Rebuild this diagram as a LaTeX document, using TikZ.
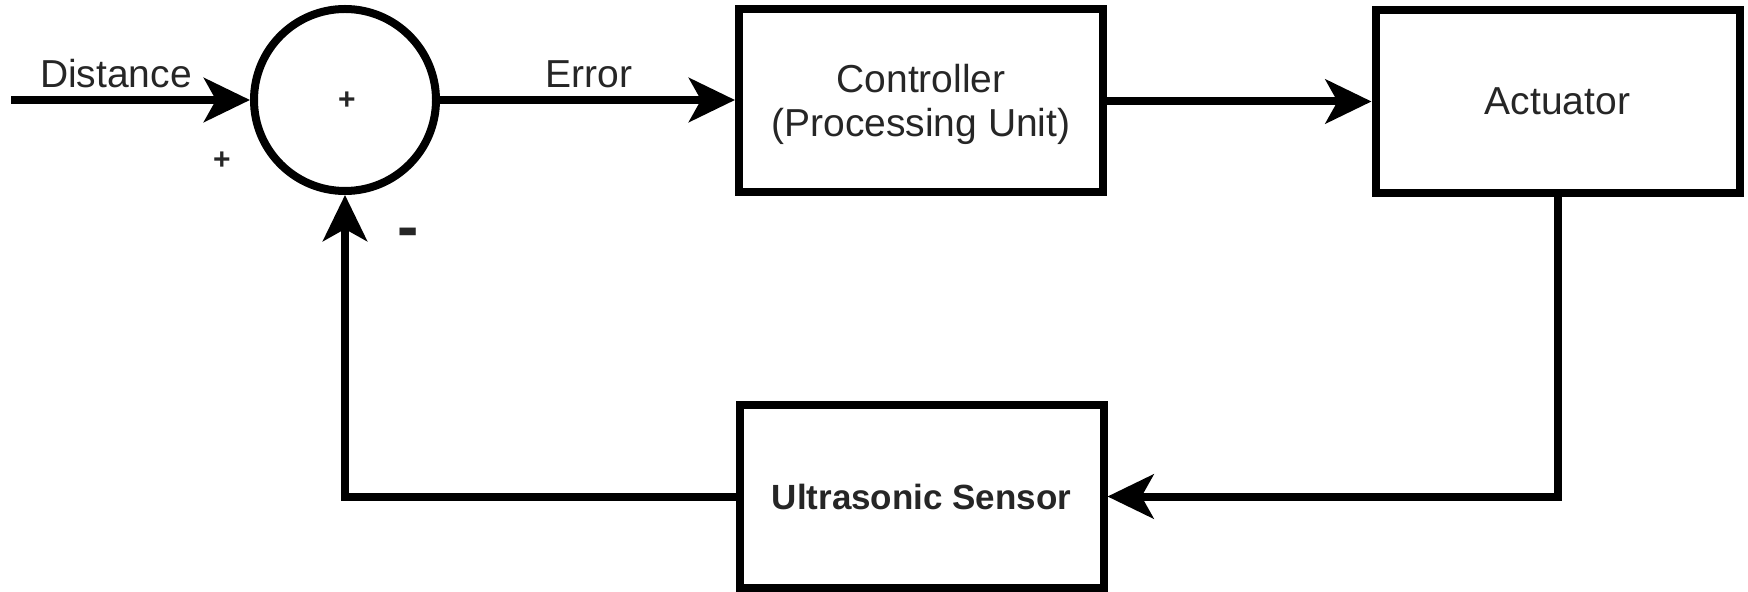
\documentclass[tikz,border=0pt]{standalone}
\usepackage{fontspec}
\setmainfont{Liberation Sans}
\usetikzlibrary{arrows.meta}
\begin{document}
\begin{tikzpicture}[x=0.5pt,y=-0.5pt,
  txt/.style={font=\fontsize{19.5}{22}\selectfont, text=black!85, inner sep=0pt},
  blk/.style={draw, line width=4pt, minimum width=182pt, minimum height=91.5pt, inner sep=0pt, align=center, txt},
  sumj/.style={draw, circle, line width=4pt, minimum size=91pt, inner sep=0pt},
  sgn/.style={font=\fontsize{15}{17}\bfseries\selectfont, text=black!85, inner sep=0pt},
  conn/.style={line width=4pt, -{Stealth[length=23pt,width=22pt,inset=6pt]}},
  boldtxt/.style={font=\fontsize{17.5}{21}\bfseries\selectfont}
]
\useasboundingbox (0,0) rectangle (1748,592);

\node[sumj] (sum) at (345,100) {};
\node[blk] (ctrl) at (921,101) {};
\node[txt, align=center] (ctrltxt) at (921,104) {Controller\\(Processing Unit)};
\node[blk] (act) at (1557.5,101.5) {Actuator};
\node[blk, boldtxt] (sens) at (921.5,496.5) {Ultrasonic Sensor};

\coordinate (in) at (11,100);

\draw[conn] (in) -- (sum.west);
\draw[conn] (sum.east) -- (ctrl.west |- sum.east);
\draw[conn] (ctrl.east |- act.west) -- (act.west);
\draw[conn] (act.south) |- (sens.east);
\draw[conn] (sens.west) -| (sum.south);

\node[txt] (ldist) at (116,74) {Distance};
\node[txt] (lerr) at (589,74) {Error};
\node[sgn] (pin) at (347,101) {+};
\node[sgn] (pout) at (222,161) {+};
\node[font=\fontsize{32}{34}\bfseries\selectfont, text=black!85, inner sep=0pt] (mneg) at (408,238) {-};
\end{tikzpicture}
\end{document}
